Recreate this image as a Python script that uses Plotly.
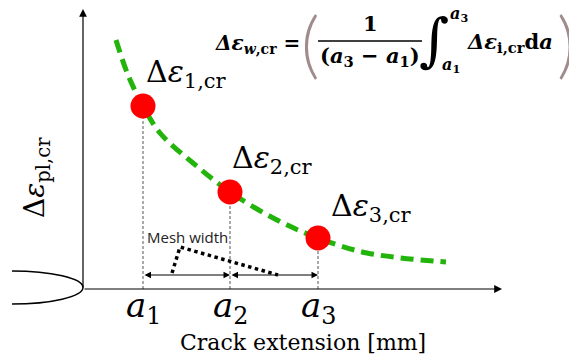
import plotly.graph_objects as go

# schematic: 1 unit = 100 px, origin at the axes corner
crack_ext = [0.60, 1.47, 2.35]          # a1, a2, a3
strain = [1.83, 0.97, 0.51]             # Δε_1,cr ... Δε_3,cr
curve_x = [0.33, 0.45, 0.60, 0.77, 1.10, 1.47, 1.94, 2.35, 2.84, 3.63]
curve_y = [2.49, 2.14, 1.83, 1.56, 1.26, 0.97, 0.69, 0.51, 0.36, 0.27]
mesh_x = [0.89, 0.97, 1.95]             # dotted "mesh width" pointer
mesh_y = [0.16, 0.42, 0.14]
tick_labels = ["<i>a</i><sub>1</sub>", "<i>a</i><sub>2</sub>", "<i>a</i><sub>3</sub>"]
point_labels = ["Δ<i>ε</i><sub>1,cr</sub>", "Δ<i>ε</i><sub>2,cr</sub>", "Δ<i>ε</i><sub>3,cr</sub>"]

W, H = 577, 360
OFF = 8  # page body margin in the screenshot
SERIF = "DejaVu Serif"


def at(px, py):
    # screenshot pixel position -> paper coords (for the text pieces)
    return dict(xref="paper", yref="paper", x=(px - OFF) / W, y=1 - (py - OFF) / H,
                xanchor="center", yanchor="middle")


fig = go.Figure()

# dashed fitted curve
fig.add_trace(go.Scatter(x=curve_x, y=curve_y, mode="lines", line_shape="spline",
                         line=dict(color="#22b40a", width=5, dash="13px,7px"),
                         hoverinfo="skip"))

# drop lines to the x axis
for x, y in zip(crack_ext, strain):
    fig.add_trace(go.Scatter(x=[x, x], y=[0, y], mode="lines",
                             line=dict(color="#555555", width=1, dash="3px,2px"),
                             hoverinfo="skip"))

# mesh width pointer
fig.add_trace(go.Scatter(x=mesh_x, y=mesh_y, mode="lines",
                         line=dict(color="black", width=3.5, dash="dot"),
                         hoverinfo="skip"))

# red points
fig.add_trace(go.Scatter(x=crack_ext, y=strain, mode="markers",
                         marker=dict(color="#ff0000", size=25, line=dict(width=0))))

ann = []

# axes with arrows
ann.append(dict(x=0, y=2.80, ax=0, ay=0, xref="x", yref="y", axref="x", ayref="y",
                text="", showarrow=True, arrowhead=2, arrowsize=1.3, arrowwidth=1.2,
                arrowcolor="black", standoff=0))
ann.append(dict(x=4.19, y=0, ax=0, ay=0, xref="x", yref="y", axref="x", ayref="y",
                text="", showarrow=True, arrowhead=2, arrowsize=1.3, arrowwidth=1.2,
                arrowcolor="black", standoff=0))

# double-headed mesh arrows
arrow_y = 0.14
for x0, x1 in zip(crack_ext[:-1], crack_ext[1:]):
    ann.append(dict(x=x1, y=arrow_y, ax=x0, ay=arrow_y, xref="x", yref="y",
                    axref="x", ayref="y", text="", showarrow=True,
                    arrowside="end+start", arrowhead=2, startarrowhead=2,
                    arrowsize=1.3, startarrowsize=1.3, arrowwidth=1,
                    arrowcolor="black", standoff=0, startstandoff=0))

ann.append(dict(**at(187, 237), text="Mesh width", showarrow=False,
                font=dict(family="Open Sans", size=15, color="#222222")))

# tick labels a1..a3
for x, t in zip(crack_ext, tick_labels):
    ann.append(dict(x=x, y=0.06, xref="x", yref="y", text=t, showarrow=False,
                    xanchor="center", yanchor="top",
                    font=dict(family=SERIF, size=34, color="black")))

# point labels
label_pos = [(0.61, 2.16), (1.47, 1.30), (2.46, 0.82)]
for (lx, ly), t in zip(label_pos, point_labels):
    ann.append(dict(x=lx, y=ly, xref="x", yref="y", text=t, showarrow=False,
                    xanchor="left", yanchor="middle",
                    font=dict(family=SERIF, size=30, color="black")))

ann.append(dict(**at(36, 178), text="Δ<i>ε</i><sub>pl,cr</sub>", showarrow=False,
                textangle=-90, font=dict(family=SERIF, size=28, color="black")))

ann.append(dict(**at(303, 342), text="Crack extension [mm]", showarrow=False,
                font=dict(family=SERIF, size=22, color="black")))

# formula, built from pieces
fb = dict(family=SERIF, size=21, color="black")
paren = dict(family="Lato", size=72, weight=300, color="#a08c8c")
ann.append(dict(**at(257, 44), text="<b><i>Δε</i><sub><i>w</i>,cr</sub> =</b>",
                showarrow=False, font=dict(family=SERIF, size=20, color="black")))
ann.append(dict(**at(310, 42), text="(", showarrow=False, font=paren))
ann.append(dict(**at(566, 42), text=")", showarrow=False, font=paren))
ann.append(dict(**at(370, 24), text="<b>1</b>", showarrow=False, font=fb))
ann.append(dict(**at(370, 57), text="<b>(<i>a</i><sub>3</sub> − <i>a</i><sub>1</sub>)</b>",
                showarrow=False, font=fb))
ann.append(dict(**at(434, 40), text="∫", showarrow=False,
                font=dict(family=SERIF, size=58, color="black")))
ann.append(dict(**at(459, 14), text="<b><i>a</i><sub>3</sub></b>", showarrow=False,
                font=dict(family=SERIF, size=16, color="black")))
ann.append(dict(**at(451, 66), text="<b><i>a</i><sub>1</sub></b>", showarrow=False,
                font=dict(family=SERIF, size=16, color="black")))
ann.append(dict(**at(510, 43), text="<b><i>Δε</i><sub>i,cr</sub>d<i>a</i></b>",
                showarrow=False, font=fb))

fig.update_layout(
    width=W, height=H,
    margin=dict(l=0, r=0, t=0, b=0),
    paper_bgcolor="white", plot_bgcolor="white",
    showlegend=False,
    xaxis=dict(range=[-0.75, 5.02], visible=False, fixedrange=True),
    yaxis=dict(range=[-0.79, 2.81], visible=False, fixedrange=True),
    annotations=ann,
    shapes=[
        # crack tip outline on the left
        dict(type="path", xref="x", yref="y",
             path="M -0.71,0.18 C -0.32,0.18 0,0.106 0,0.015 C 0,-0.076 -0.32,-0.15 -0.71,-0.15",
             line=dict(color="black", width=1.5)),
        # fraction bar
        dict(type="line", xref="paper", yref="paper", x0=(318 - OFF) / W, x1=(422 - OFF) / W,
             y0=1 - (41 - OFF) / H, y1=1 - (41 - OFF) / H, line=dict(color="black", width=1.5)),
    ],
)

fig.write_html("out.html")
